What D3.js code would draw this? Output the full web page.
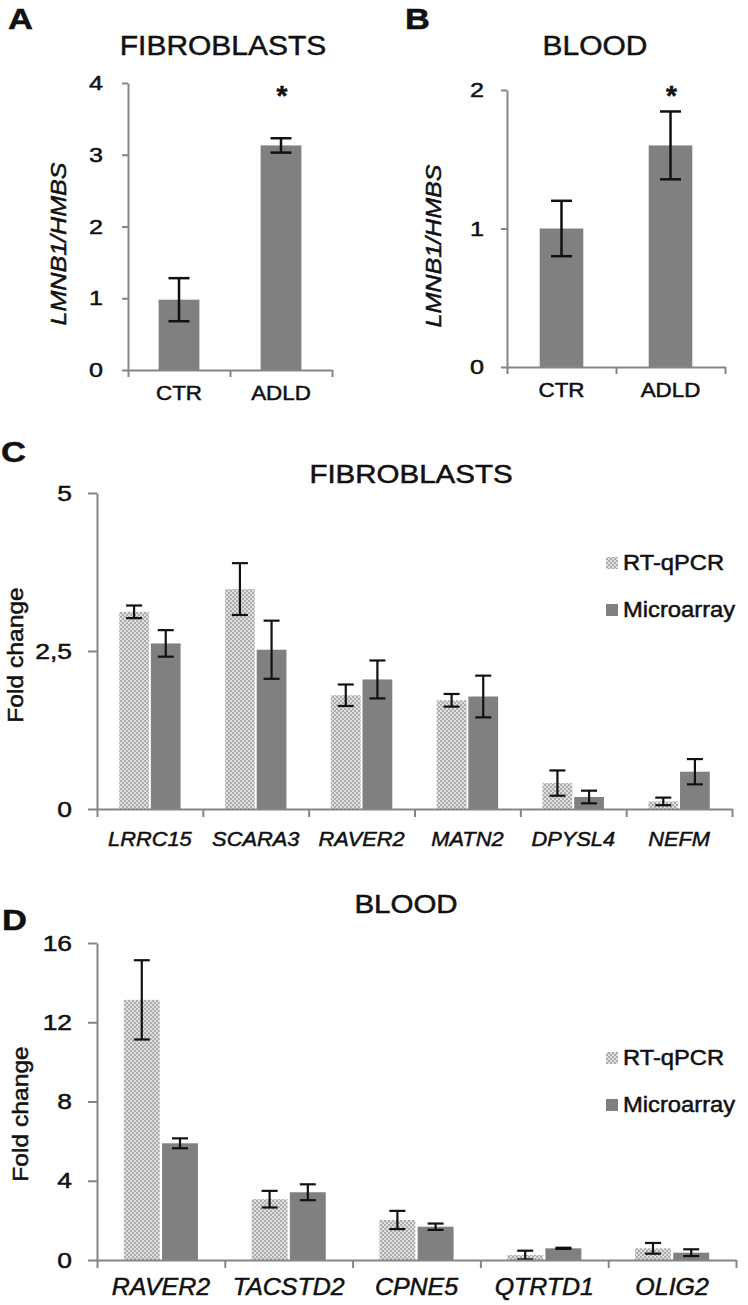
<!DOCTYPE html>
<html>
<head>
<meta charset="utf-8">
<script src="https://cdn.jsdelivr.net/npm/d3@7"></script>
<style>
body { margin: 0; background: #fff; }
svg text { font-family: "Liberation Sans", Arial, sans-serif; fill: #111; stroke: #111; stroke-width: 0.5px; }
</style>
</head>
<body>
<div id="chart"></div>
<script>
// panel A / B : LMNB1 expression
var groupsAB = ["CTR", "ADLD"];
var fibroLmnb1 = [0.98, 3.13];
var fibroLmnb1Err = [0.30, 0.10];
var bloodLmnb1 = [1.00, 1.60];
var bloodLmnb1Err = [0.20, 0.245];
var starsAB = ["", "*"];
var ticksA = [0, 1, 2, 3, 4];
var ticksB = [0, 1, 2];

// panel C / D : validation of array genes
var seriesNames = ["RT-qPCR", "Microarray"];
var fibroGenes = ["LRRC15", "SCARA3", "RAVER2", "MATN2", "DPYSL4", "NEFM"];
var fibroQpcr = [3.12, 3.48, 1.80, 1.72, 0.41, 0.12];
var fibroQpcrErr = [0.10, 0.41, 0.17, 0.10, 0.20, 0.06];
var fibroArray = [2.62, 2.52, 2.05, 1.78, 0.19, 0.59];
var fibroArrayErr = [0.21, 0.46, 0.30, 0.33, 0.10, 0.20];
var ticksC = [0, 2.5, 5];
var tickLabelsC = ["0", "2,5", "5"];

var bloodGenes = ["RAVER2", "TACSTD2", "CPNE5", "QTRTD1", "OLIG2"];
var bloodQpcr = [13.13, 3.07, 2.02, 0.25, 0.59];
var bloodQpcrErr = [2.00, 0.42, 0.46, 0.22, 0.27];
var bloodArray = [5.89, 3.42, 1.68, 0.59, 0.37];
var bloodArrayErr = [0.25, 0.40, 0.16, 0.03, 0.17];
var ticksD = [0, 4, 8, 12, 16];

var AXIS_COLOR = "#858585";
var BAR_COLOR = "#808080";

var svg = d3.select("#chart").append("svg")
    .attr("width", 748)
    .attr("height", 1305);

var defs = svg.append("defs");
var pat = defs.append("pattern")
    .attr("id", "qpcr")
    .attr("width", 4).attr("height", 4)
    .attr("patternUnits", "userSpaceOnUse");
pat.append("rect").attr("width", 4).attr("height", 4).attr("fill", "#e0e0e0");
pat.append("rect").attr("width", 2).attr("height", 2).attr("fill", "#ababab");
pat.append("rect").attr("x", 2).attr("y", 2).attr("width", 2).attr("height", 2).attr("fill", "#ababab");

function putText(parent, str, x, y, o) {
    var tf = "translate(" + x + "," + y + ")";
    if (o.rotate) tf += " rotate(-90)";
    tf += " scale(" + (o.sx || 1) + ",1)";
    var t = parent.append("text")
        .attr("transform", tf)
        .attr("text-anchor", o.anchor || "middle")
        .style("font-size", o.size + "px")
        .text(str);
    if (o.italic) t.style("font-style", "italic");
    if (o.bold) t.style("font-weight", "bold");
    return t;
}

function styleAxis(g, width) {
    g.selectAll("path, line").attr("stroke", AXIS_COLOR).attr("stroke-width", width);
}

function yAxis(g, y, left, ticks, labels, tickLen, labelRight, size, sx) {
    var ax = g.append("g")
        .attr("transform", "translate(" + left + ",0)")
        .call(d3.axisLeft(y).tickValues(ticks).tickSize(tickLen).tickSizeOuter(0)
            .tickFormat(function (d, i) { return labels ? labels[i] : d; }));
    styleAxis(ax, 2);
    ax.selectAll(".tick text")
        .attr("x", -(left - labelRight) / sx)
        .attr("transform", "scale(" + sx + ",1)")
        .style("font-size", size + "px")
        .style("font-family", "'Liberation Sans', Arial, sans-serif")
        .attr("fill", "#111");
}

function xAxis(g, n, left, right, base, tickLen) {
    var lin = d3.scaleLinear().domain([0, n]).range([left, right]);
    var ax = g.append("g")
        .attr("transform", "translate(0," + base + ")")
        .call(d3.axisBottom(lin).tickValues(d3.range(n + 1)).tickSize(tickLen).tickSizeOuter(0).tickFormat(""));
    styleAxis(ax, 2);
}

function errorBar(g, cx, y, v, e, capW, lw) {
    var eg = g.append("g").attr("stroke", "#111").attr("stroke-width", lw);
    eg.append("line").attr("x1", cx).attr("x2", cx).attr("y1", y(v + e)).attr("y2", y(Math.max(0, v - e)));
    eg.append("line").attr("x1", cx - capW / 2).attr("x2", cx + capW / 2).attr("y1", y(v + e)).attr("y2", y(v + e));
    eg.append("line").attr("x1", cx - capW / 2).attr("x2", cx + capW / 2).attr("y1", y(Math.max(0, v - e))).attr("y2", y(Math.max(0, v - e)));
}

// simple two bar panel (A, B)
function drawSimple(cfg) {
    var g = svg.append("g");
    var y = d3.scaleLinear().domain([0, cfg.max]).range([cfg.bottom, cfg.top]);
    var x = d3.scaleBand().domain(groupsAB).range([cfg.left, cfg.right])
        .paddingInner(0.6).paddingOuter(0.3);

    g.selectAll("rect.bar").data(cfg.values).enter().append("rect")
        .attr("class", "bar")
        .attr("x", function (d, i) { return x(groupsAB[i]); })
        .attr("y", function (d) { return y(d); })
        .attr("width", x.bandwidth())
        .attr("height", function (d) { return cfg.bottom - y(d); })
        .attr("fill", BAR_COLOR);

    cfg.values.forEach(function (v, i) {
        var cx = x(groupsAB[i]) + x.bandwidth() / 2;
        errorBar(g, cx, y, v, cfg.errs[i], 21, 2.5);
        if (starsAB[i]) putText(g, starsAB[i], cx + 1, cfg.starY, { size: 28, bold: true });
        putText(g, groupsAB[i], cx, cfg.bottom + 30, { size: 20, sx: 1.12 });
    });

    yAxis(g, y, cfg.left, cfg.ticks, null, 6, cfg.labelRight, 21, 1.2);
    xAxis(g, 2, cfg.left, cfg.right, cfg.bottom, 7);

    putText(g, cfg.title, cfg.titleX, 55, { size: 28, sx: 1.07 });
    putText(g, cfg.letter, cfg.letterX, 29, { size: 30, bold: true, anchor: "start", sx: 1.15 });
    putText(g, "LMNB1/HMBS", cfg.ylabX, cfg.ylabY, { size: 22, italic: true, rotate: true, sx: 1.14 });
}

// grouped panel (C, D)
function drawGrouped(cfg) {
    var g = svg.append("g");
    var y = d3.scaleLinear().domain([0, cfg.max]).range([cfg.bottom, cfg.top]);
    var x0 = d3.scaleBand().domain(cfg.genes).range([cfg.left, cfg.right])
        .paddingInner(0.42).paddingOuter(0.21);
    var x1 = d3.scaleBand().domain(seriesNames).range([0, x0.bandwidth()]).paddingInner(0.06);
    var vals = [cfg.qpcr, cfg.array];
    var errs = [cfg.qpcrErr, cfg.arrayErr];
    var fills = ["url(#qpcr)", BAR_COLOR];

    seriesNames.forEach(function (s, si) {
        g.append("g").selectAll("rect").data(vals[si]).enter().append("rect")
            .attr("x", function (d, i) { return x0(cfg.genes[i]) + x1(s); })
            .attr("y", function (d) { return y(d); })
            .attr("width", x1.bandwidth())
            .attr("height", function (d) { return cfg.bottom - y(d); })
            .attr("fill", fills[si]);
    });
    seriesNames.forEach(function (s, si) {
        vals[si].forEach(function (v, i) {
            var cx = x0(cfg.genes[i]) + x1(s) + x1.bandwidth() / 2;
            errorBar(g, cx, y, v, errs[si][i], 16, 2.2);
        });
    });

    yAxis(g, y, cfg.left, cfg.ticks, cfg.tickLabels, 9, 72, 22, 1.2);
    xAxis(g, cfg.genes.length, cfg.left, cfg.right, cfg.bottom, 8);

    cfg.genes.forEach(function (gn) {
        putText(g, gn, x0(gn) + x0.bandwidth() / 2, cfg.geneY, { size: cfg.geneSize, italic: true, sx: 1.04 });
    });

    putText(g, cfg.title, cfg.titleX, cfg.titleY, { size: 25, sx: 1.18 });
    putText(g, cfg.letter, cfg.letterX, cfg.letterY, { size: 30, bold: true, anchor: "start", sx: 1.15 });
    putText(g, "Fold change", cfg.ylabX, cfg.ylabY, { size: 22, rotate: true, sx: 1.12 });

    // legend
    var lg = g.append("g");
    seriesNames.forEach(function (s, si) {
        var ly = cfg.legendY + si * 47;
        lg.append("rect").attr("x", 606).attr("y", ly - 13).attr("width", 12).attr("height", 12).attr("fill", fills[si]);
        putText(lg, s, 623, ly, { size: 22, anchor: "start", sx: 1.08 });
    });
}

drawSimple({
    values: fibroLmnb1, errs: fibroLmnb1Err, ticks: ticksA, max: 4,
    left: 128, right: 332, top: 83, bottom: 370, labelRight: 103,
    title: "FIBROBLASTS", titleX: 223, letter: "A", letterX: 8,
    starY: 105, ylabX: 66, ylabY: 244
});

drawSimple({
    values: bloodLmnb1, errs: bloodLmnb1Err, ticks: ticksB, max: 2,
    left: 507, right: 725, top: 90, bottom: 367, labelRight: 484,
    title: "BLOOD", titleX: 595, letter: "B", letterX: 405,
    starY: 105, ylabX: 441, ylabY: 246
});

drawGrouped({
    genes: fibroGenes, qpcr: fibroQpcr, qpcrErr: fibroQpcrErr, array: fibroArray, arrayErr: fibroArrayErr,
    ticks: ticksC, tickLabels: tickLabelsC, max: 5,
    left: 97, right: 732, top: 493, bottom: 809,
    geneY: 846, geneSize: 21,
    title: "FIBROBLASTS", titleX: 411, titleY: 483,
    letter: "C", letterX: 1, letterY: 462,
    ylabX: 23, ylabY: 655, legendY: 570
});

drawGrouped({
    genes: bloodGenes, qpcr: bloodQpcr, qpcrErr: bloodQpcrErr, array: bloodArray, arrayErr: bloodArrayErr,
    ticks: ticksD, tickLabels: null, max: 16,
    left: 97, right: 736, top: 943, bottom: 1260,
    geneY: 1295, geneSize: 24,
    title: "BLOOD", titleX: 406, titleY: 913,
    letter: "D", letterX: 2, letterY: 930,
    ylabX: 28, ylabY: 1114, legendY: 1065
});
</script>
</body>
</html>
